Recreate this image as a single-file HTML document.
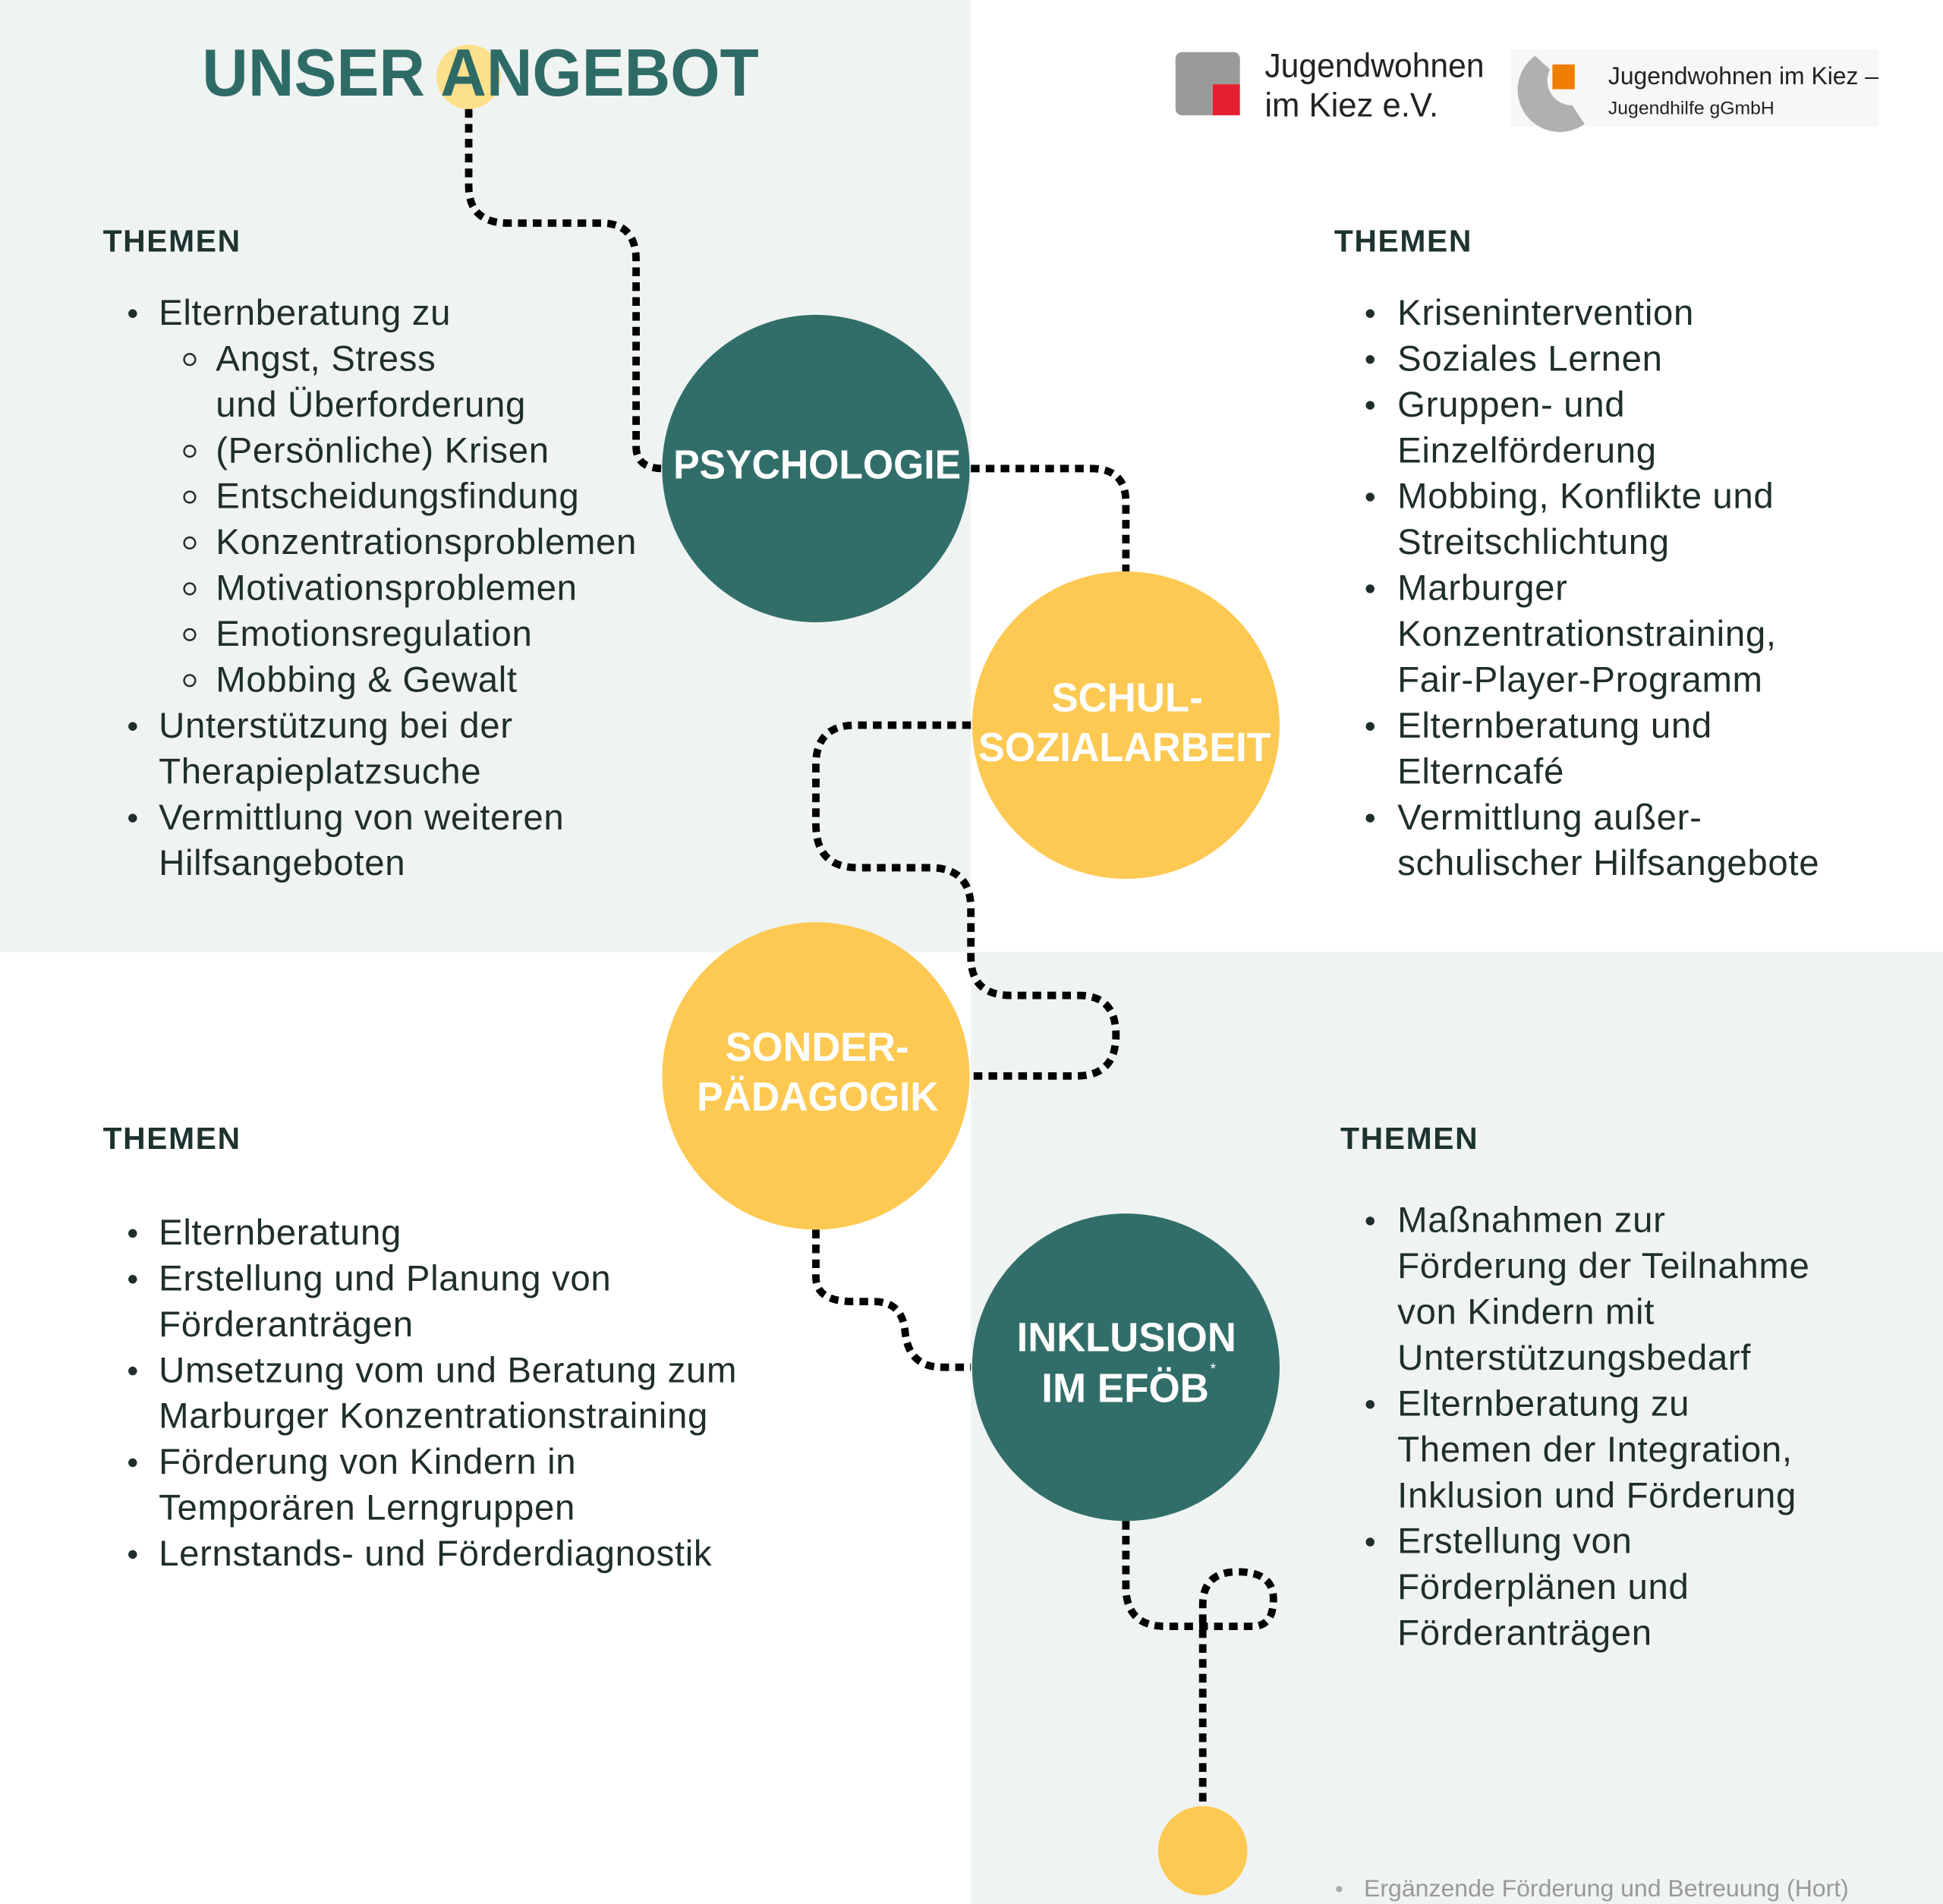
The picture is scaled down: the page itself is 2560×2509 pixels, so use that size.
<!DOCTYPE html>
<html><head><meta charset="utf-8"><style>
html,body{margin:0;padding:0;background:#fff}
svg{display:block}
text{font-family:"Liberation Sans",sans-serif}
.b{font-size:29px;fill:#1f2e2c;letter-spacing:0.4px}
.h{font-size:25px;font-weight:bold;fill:#1d3330;letter-spacing:1px}
.c{font-size:33px;font-weight:bold;fill:#fff}
.d{fill:none;stroke:#000;stroke-width:6;stroke-dasharray:7 5}
</style></head><body>
<svg width="2560" height="2509" viewBox="0 0 1567 1536" preserveAspectRatio="none" xmlns="http://www.w3.org/2000/svg">
<rect x="0" y="0" width="783" height="768" fill="#eff3f1"/>
<rect x="783" y="768" width="784" height="768" fill="#eff3f1"/>

<!-- logos -->
<path d="M948 48 q0-6 6-6 h40 q6 0 6 6 v20 h-22 v25 h-24 q-6 0-6-6z" fill="#9a9a9a"/>
<rect x="978" y="68" width="22" height="25" fill="#e4202e"/>
<text x="1020" y="62" font-size="27" fill="#222" textLength="177" lengthAdjust="spacingAndGlyphs">Jugendwohnen</text>
<text x="1020" y="94" font-size="27" fill="#222" textLength="140" lengthAdjust="spacingAndGlyphs">im Kiez e.V.</text>
<rect x="1218" y="40" width="297" height="62" fill="#f7f7f7"/>
<path d="M1238 45 A34 34 0 0 0 1278 100 L1268 85 A20 20 0 0 1 1250 56 Z" fill="#b0b0b0"/>
<rect x="1252" y="52" width="18" height="20" fill="#ef7d00"/>
<text x="1297" y="68" font-size="20" fill="#222" textLength="218" lengthAdjust="spacingAndGlyphs">Jugendwohnen im Kiez –</text>
<text x="1297" y="92" font-size="15" fill="#222" textLength="134" lengthAdjust="spacingAndGlyphs">Jugendhilfe gGmbH</text>

<!-- title -->
<circle cx="378" cy="62" r="26" fill="#fde08b"/>
<text x="163" y="77" font-size="54" font-weight="bold" fill="#2f6b66" textLength="449" lengthAdjust="spacingAndGlyphs">UNSER ANGEBOT</text>

<!-- connectors -->
<path class="d" d="M378 88 V150 Q378 180 410 180 H485 Q513 180 513 210 V360 Q513 378 535 378"/>
<path class="d" d="M783 378 H880 Q908 378 908 405 V461"/>
<path class="d" d="M783 585 H690 Q658 585 658 617 V665 Q658 700 692 700 H750 Q783 700 783 733 V772 Q783 803 815 803 H870 Q900 803 900 835 Q900 868 868 868 H783"/>
<path class="d" d="M658 992 V1030 Q658 1050 688 1050 H705 Q728 1050 730 1075 Q733 1103 760 1103 H783"/>
<path class="d" d="M908 1227 V1280 Q908 1312 940 1312 H1010 Q1027 1312 1027 1290 Q1027 1268 998 1268 Q970 1268 970 1295 V1455"/>

<!-- circles -->
<circle cx="658" cy="378" r="124" fill="#316e69"/>
<circle cx="908" cy="585" r="124" fill="#fec952"/>
<circle cx="658" cy="868" r="124" fill="#fec952"/>
<circle cx="908" cy="1103" r="124" fill="#316e69"/>
<circle cx="970" cy="1493" r="36" fill="#fec952"/>
<text class="c" x="543" y="386" textLength="232" lengthAdjust="spacingAndGlyphs">PSYCHOLOGIE</text>
<text class="c" x="848" y="574" textLength="122" lengthAdjust="spacingAndGlyphs">SCHUL-</text>
<text class="c" x="789" y="614" textLength="236" lengthAdjust="spacingAndGlyphs">SOZIALARBEIT</text>
<text class="c" x="585" y="856" textLength="148" lengthAdjust="spacingAndGlyphs">SONDER-</text>
<text class="c" x="562" y="896" textLength="195" lengthAdjust="spacingAndGlyphs">PÄDAGOGIK</text>
<text class="c" x="820" y="1090" textLength="177" lengthAdjust="spacingAndGlyphs">INKLUSION</text>
<text class="c" x="840" y="1131" textLength="135" lengthAdjust="spacingAndGlyphs">IM EFÖB</text>
<text x="976" y="1108" font-size="12" fill="#fff">*</text>

<!-- top-left -->
<text class="h" x="83" y="203">THEMEN</text>
<g class="b">
<circle cx="107" cy="253" r="3.5" fill="#1f2e2c"/><text x="128" y="262">Elternberatung zu</text>
<circle cx="153" cy="290" r="4.5" fill="none" stroke="#1f2e2c" stroke-width="1.5"/><text x="174" y="299">Angst, Stress</text>
<text x="174" y="336">und Überforderung</text>
<circle cx="153" cy="364" r="4.5" fill="none" stroke="#1f2e2c" stroke-width="1.5"/><text x="174" y="373">(Persönliche) Krisen</text>
<circle cx="153" cy="401" r="4.5" fill="none" stroke="#1f2e2c" stroke-width="1.5"/><text x="174" y="410">Entscheidungsfindung</text>
<circle cx="153" cy="438" r="4.5" fill="none" stroke="#1f2e2c" stroke-width="1.5"/><text x="174" y="447">Konzentrationsproblemen</text>
<circle cx="153" cy="475" r="4.5" fill="none" stroke="#1f2e2c" stroke-width="1.5"/><text x="174" y="484">Motivationsproblemen</text>
<circle cx="153" cy="512" r="4.5" fill="none" stroke="#1f2e2c" stroke-width="1.5"/><text x="174" y="521">Emotionsregulation</text>
<circle cx="153" cy="549" r="4.5" fill="none" stroke="#1f2e2c" stroke-width="1.5"/><text x="174" y="558">Mobbing &amp; Gewalt</text>
<circle cx="107" cy="586" r="3.5" fill="#1f2e2c"/><text x="128" y="595">Unterstützung bei der</text>
<text x="128" y="632">Therapieplatzsuche</text>
<circle cx="107" cy="660" r="3.5" fill="#1f2e2c"/><text x="128" y="669">Vermittlung von weiteren</text>
<text x="128" y="706">Hilfsangeboten</text>
</g>

<!-- top-right -->
<text class="h" x="1076" y="203">THEMEN</text>
<g class="b">
<circle cx="1105" cy="253" r="3.5" fill="#1f2e2c"/><text x="1127" y="262">Krisenintervention</text>
<circle cx="1105" cy="290" r="3.5" fill="#1f2e2c"/><text x="1127" y="299">Soziales Lernen</text>
<circle cx="1105" cy="327" r="3.5" fill="#1f2e2c"/><text x="1127" y="336">Gruppen- und</text>
<text x="1127" y="373">Einzelförderung</text>
<circle cx="1105" cy="401" r="3.5" fill="#1f2e2c"/><text x="1127" y="410">Mobbing, Konflikte und</text>
<text x="1127" y="447">Streitschlichtung</text>
<circle cx="1105" cy="475" r="3.5" fill="#1f2e2c"/><text x="1127" y="484">Marburger</text>
<text x="1127" y="521">Konzentrationstraining,</text>
<text x="1127" y="558">Fair-Player-Programm</text>
<circle cx="1105" cy="586" r="3.5" fill="#1f2e2c"/><text x="1127" y="595">Elternberatung und</text>
<text x="1127" y="632">Elterncafé</text>
<circle cx="1105" cy="660" r="3.5" fill="#1f2e2c"/><text x="1127" y="669">Vermittlung außer-</text>
<text x="1127" y="706">schulischer Hilfsangebote</text>
</g>

<!-- bottom-left -->
<text class="h" x="83" y="927">THEMEN</text>
<g class="b">
<circle cx="107" cy="995" r="3.5" fill="#1f2e2c"/><text x="128" y="1004">Elternberatung</text>
<circle cx="107" cy="1032" r="3.5" fill="#1f2e2c"/><text x="128" y="1041">Erstellung und Planung von</text>
<text x="128" y="1078">Förderanträgen</text>
<circle cx="107" cy="1106" r="3.5" fill="#1f2e2c"/><text x="128" y="1115">Umsetzung vom und Beratung zum</text>
<text x="128" y="1152">Marburger Konzentrationstraining</text>
<circle cx="107" cy="1180" r="3.5" fill="#1f2e2c"/><text x="128" y="1189">Förderung von Kindern in</text>
<text x="128" y="1226">Temporären Lerngruppen</text>
<circle cx="107" cy="1254" r="3.5" fill="#1f2e2c"/><text x="128" y="1263">Lernstands- und Förderdiagnostik</text>
</g>

<!-- bottom-right -->
<text class="h" x="1081" y="927">THEMEN</text>
<g class="b">
<circle cx="1105" cy="985" r="3.5" fill="#1f2e2c"/><text x="1127" y="994">Maßnahmen zur</text>
<text x="1127" y="1031">Förderung der Teilnahme</text>
<text x="1127" y="1068">von Kindern mit</text>
<text x="1127" y="1105">Unterstützungsbedarf</text>
<circle cx="1105" cy="1133" r="3.5" fill="#1f2e2c"/><text x="1127" y="1142">Elternberatung zu</text>
<text x="1127" y="1179">Themen der Integration,</text>
<text x="1127" y="1216">Inklusion und Förderung</text>
<circle cx="1105" cy="1244" r="3.5" fill="#1f2e2c"/><text x="1127" y="1253">Erstellung von</text>
<text x="1127" y="1290">Förderplänen und</text>
<text x="1127" y="1327">Förderanträgen</text>
</g>
<circle cx="1080" cy="1524" r="2.5" fill="#aaa"/>
<text x="1100" y="1530" font-size="19" fill="#999" textLength="391" lengthAdjust="spacingAndGlyphs">Ergänzende Förderung und Betreuung (Hort)</text>
</svg>
</body></html>
